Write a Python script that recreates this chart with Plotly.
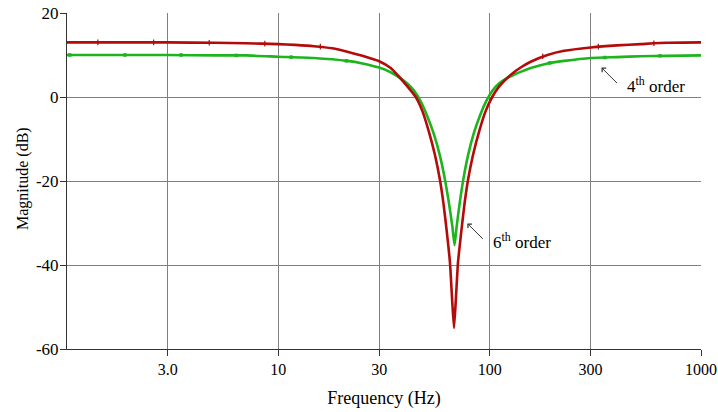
import numpy as np
import plotly.graph_objects as go

# 6th order (red) magnitude response
red_freq = [1, 2, 3, 5, 7, 10, 12, 14.7, 18, 21.2, 25, 30, 34, 37, 41, 44.7, 48, 51.4,
            55.1, 58.1, 60.5, 62.5, 64.9, 66.3, 67.8, 69.3, 70.8, 73.6, 76, 79.1, 83.4,
            89.4, 95.8, 102.8, 110, 118, 130.3, 142, 156.4, 187.7, 225, 301, 400, 519,
            690, 1000]
red_db = [13.0, 13.0, 13.0, 12.9, 12.8, 12.6, 12.4, 12.1, 11.6, 10.8, 9.8, 8.5, 6.9, 5.0,
          2.4, 0.0, -3.3, -8.0, -13.8, -19.6, -25.5, -31.5, -39.5, -47.5, -55.0, -47.5,
          -39.5, -31.5, -25.5, -19.6, -13.8, -8.0, -3.3, 0.0, 2.3, 4.0, 5.9, 7.2, 8.4,
          10.0, 11.0, 11.8, 12.3, 12.6, 12.9, 13.0]

# 4th order (green) magnitude response
green_freq = [1, 2, 3, 5, 7, 10, 14.7, 21.2, 25, 30, 34, 37, 41, 44, 47.1, 50.5, 54.5,
              58.1, 61.2, 64, 66.6, 68.2, 69.8, 72.3, 75.3, 79, 83.8, 90, 96.3,
              103, 110, 122, 130.3, 142, 156.4, 187.7, 225, 301, 400, 519, 690, 1000]
green_db = [10.0, 10.0, 10.0, 9.9, 9.9, 9.6, 9.3, 8.6, 8.0, 7.0, 5.9, 4.8, 3.1, 1.4, -1.0,
            -4.4, -8.9, -13.9, -19.2, -24.9, -30.8, -35.3, -30.8, -24.9, -19.2, -13.9,
            -8.9, -4.4, -1.0, 1.5, 3.1, 4.6, 5.3, 6.1, 6.9, 8.0, 8.6, 9.3, 9.5, 9.7, 9.8,
            9.9]

# sparse plot markers on each trace
red_mk_freq = [1.40, 2.57, 4.71, 8.63, 15.8, 178.3, 326.7, 598.5]
red_mk_db = [13.0, 13.0, 12.9, 12.7, 12.0, 9.7, 12.0, 12.8]
green_mk_freq = [1.03, 1.88, 3.47, 6.32, 11.5, 21.0, 192.4, 350.7, 639.7]
green_mk_db = [10.0, 10.0, 10.0, 9.9, 9.5, 8.6, 8.1, 9.4, 9.8]

x_tickvals = [3, 10, 30, 100, 300, 1000]
x_ticktext = ["3.0", "10", "30", "100", "300", "1000"]
y_tickvals = [-60, -40, -20, 0, 20]
y_ticktext = ["-60", "-40", "-20", "0", "20"]

RED = "#b40a0a"
GREEN = "#1eb41e"
FONT = "'Liberation Serif', 'Times New Roman', Times, serif"

fig = go.Figure()
fig.add_trace(go.Scatter(x=green_freq, y=green_db, mode="lines",
                         line=dict(color=GREEN, width=2.6, shape="spline", smoothing=0.5),
                         showlegend=False, hoverinfo="skip"))
fig.add_trace(go.Scatter(x=red_freq, y=red_db, mode="lines",
                         line=dict(color=RED, width=2.6, shape="spline", smoothing=0.5),
                         showlegend=False, hoverinfo="skip"))
fig.add_trace(go.Scatter(x=green_mk_freq, y=green_mk_db, mode="markers",
                         marker=dict(symbol="square", size=3.5, color=GREEN),
                         showlegend=False, hoverinfo="skip"))
fig.add_trace(go.Scatter(x=red_mk_freq, y=red_mk_db, mode="markers",
                         marker=dict(symbol="line-ns", size=4,
                                     line=dict(color=RED, width=1.2)),
                         showlegend=False, hoverinfo="skip"))

# annotations: arrows and labels (log axis -> annotation x in log10 units)
fig.add_annotation(x=np.log10(78.4), y=-30.1, ax=17, ay=17,
                   text="", showarrow=True, arrowhead=4, arrowsize=1.1,
                   arrowwidth=1, arrowcolor="#333333")
fig.add_annotation(x=np.log10(101.3), y=-34.2, text="6<sup>th</sup> order", showarrow=False,
                   xanchor="left", yanchor="middle",
                   font=dict(family=FONT, size=17, color="black"))
fig.add_annotation(x=np.log10(338.2), y=7.0, ax=17, ay=17,
                   text="", showarrow=True, arrowhead=4, arrowsize=1.1,
                   arrowwidth=1, arrowcolor="#333333")
fig.add_annotation(x=np.log10(436.5), y=2.9, text="4<sup>th</sup> order", showarrow=False,
                   xanchor="left", yanchor="middle",
                   font=dict(family=FONT, size=17, color="black"))
# y-axis title placed as rotated text
fig.add_annotation(xref="paper", yref="paper", x=-0.0694, y=0.506,
                   text="Magnitude (dB)", textangle=-90, showarrow=False,
                   xanchor="center", yanchor="middle",
                   font=dict(family=FONT, size=16, color="black"))

fig.update_layout(
    width=718, height=412,
    margin=dict(l=67, r=17, t=13, b=63),
    paper_bgcolor="white", plot_bgcolor="white",
    font=dict(family=FONT, size=16, color="black"),
    xaxis=dict(
        type="log", range=[0, 3],
        tickmode="array", tickvals=x_tickvals, ticktext=x_ticktext,
        showgrid=True, gridcolor="#808080", gridwidth=1,
        showline=True, linecolor="#333333", linewidth=1,
        ticks="outside", ticklen=6, tickcolor="#333333",
        tickfont=dict(family=FONT, size=16),
        title=dict(text="Frequency (Hz)", font=dict(family=FONT, size=18), standoff=14),
        zeroline=False, automargin=False,
    ),
    yaxis=dict(
        range=[-60, 20],
        tickmode="array", tickvals=y_tickvals, ticktext=y_ticktext,
        showgrid=True, gridcolor="#808080", gridwidth=1,
        showline=True, linecolor="#333333", linewidth=1,
        ticks="outside", ticklen=6, tickcolor="#333333",
        tickfont=dict(family=FONT, size=17),
        ticklabelstandoff=-2,
        zeroline=False, automargin=False,
    ),
)

fig.write_html("out.html")
